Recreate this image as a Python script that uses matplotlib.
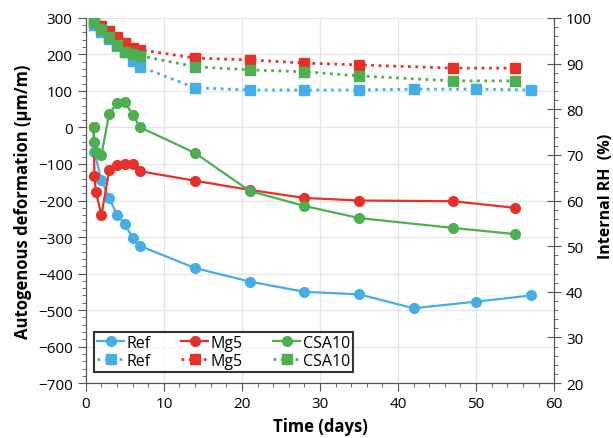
import matplotlib.pyplot as plt
from matplotlib.ticker import MultipleLocator

plt.rcParams['font.family'] = ['Open Sans', 'DejaVu Sans']

# autogenous deformation (um/m), left axis
ref_days = [1, 1.1, 2, 3, 4, 5, 6, 7, 14, 21, 28, 35, 42, 50, 57]
ref_def = [0, -67, -145, -193, -240, -265, -302, -325, -385, -422, -450, -457, -495, -477, -460]
mg5_days = [1, 1.1, 1.3, 2, 3, 4, 5, 6, 7, 14, 21, 28, 35, 47, 55]
mg5_def = [0, -132, -177, -240, -117, -103, -100, -100, -120, -146, -171, -193, -200, -202, -220]
csa_days = [1, 1.1, 1.3, 2, 3, 4, 5, 6, 7, 14, 21, 28, 35, 47, 55]
csa_def = [0, -40, -67, -75, 38, 67, 70, 34, 0, -70, -174, -215, -248, -275, -292]

# internal RH (%), right axis
ref_rh_days = [1, 2, 3, 4, 5, 6, 7, 14, 21, 28, 35, 42, 50, 57]
ref_rh = [98.5, 96.8, 95.3, 93.8, 92.5, 90.6, 89.3, 84.7, 84.2, 84.2, 84.2, 84.4, 84.4, 84.2]
mg5_rh_days = [1, 2, 3, 4, 5, 6, 7, 14, 21, 28, 35, 47, 55]
mg5_rh = [99.3, 98.3, 97.2, 95.8, 94.5, 93.4, 93.0, 91.2, 90.8, 90.1, 89.7, 89.0, 89.0]
csa_rh_days = [1, 2, 3, 4, 5, 6, 7, 14, 21, 28, 35, 47, 55]
csa_rh = [99.1, 97.6, 95.8, 94.1, 92.5, 92.1, 91.7, 89.3, 88.6, 88.2, 87.3, 86.2, 86.2]

blue = '#45aee8'
red = '#e8302a'
green = '#4caf50'

fig = plt.figure(figsize=(6.13, 4.39), dpi=100)
ax = fig.add_axes([0.140, 0.125, 0.764, 0.832])
ax2 = ax.twinx()

h = []
for d, v, c, lab in [(ref_days, ref_def, blue, 'Ref'),
                     (mg5_days, mg5_def, red, 'Mg5'),
                     (csa_days, csa_def, green, 'CSA10')]:
    l, = ax.plot(d, v, '-o', color=c, lw=1.6, ms=7, label=lab)
    h.append(l)

h2 = []
for d, v, c, lab in [(ref_rh_days, ref_rh, blue, 'Ref'),
                     (mg5_rh_days, mg5_rh, red, 'Mg5'),
                     (csa_rh_days, csa_rh, green, 'CSA10')]:
    l, = ax2.plot(d, v, ':s', color=c, lw=2, ms=6.5, label=lab)
    h2.append(l)

ax.set_xlim(0, 60)
ax.set_ylim(-700, 300)
ax2.set_ylim(20, 100)

ax.xaxis.set_major_locator(MultipleLocator(10))
ax.xaxis.set_minor_locator(MultipleLocator(2))
ax.yaxis.set_major_locator(MultipleLocator(100))
ax.yaxis.set_minor_locator(MultipleLocator(20))
ax2.yaxis.set_major_locator(MultipleLocator(10))
ax2.yaxis.set_minor_locator(MultipleLocator(2))

ax.grid(True, which='major', color='#e6e6e6', lw=1)
ax.set_axisbelow(True)

for a in (ax, ax2):
    a.spines['top'].set_visible(False)
    for s in ('left', 'right', 'bottom'):
        a.spines[s].set_color('#555555')
ax.tick_params(which='both', direction='out', colors='#555555', labelcolor='black', labelsize=11)
ax.tick_params(which='major', length=6)
ax.tick_params(which='minor', length=3)
ax2.tick_params(which='major', direction='inout', length=10, colors='#555555', labelcolor='black', labelsize=11)
ax2.tick_params(which='minor', direction='out', length=3, colors='#555555')

ax.set_xlabel('Time (days)', fontsize=12, fontweight='bold')
ax.set_ylabel('Autogenous deformation (μm/m)', fontsize=12, fontweight='bold')
ax2.set_ylabel('Internal RH  (%)', fontsize=11.5, fontweight='bold')
ax2.yaxis.set_label_coords(1.094, 0.515)

handles = [h[0], h2[0], h[1], h2[1], h[2], h2[2]]
leg = ax2.legend(handles, [x.get_label() for x in handles], ncol=3,
                 loc='lower left', bbox_to_anchor=(0.0, 0.009),
                 fontsize=11.5, frameon=True, fancybox=False,
                 handlelength=1.7, handletextpad=0.15, columnspacing=1.9,
                 labelspacing=0.1, borderpad=0.2)
leg.get_frame().set_edgecolor('black')
leg.get_frame().set_linewidth(1.5)

fig.savefig('out.png', dpi=100)
